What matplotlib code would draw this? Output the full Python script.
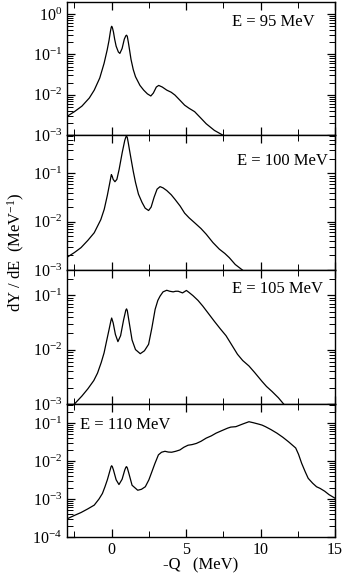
import matplotlib
matplotlib.use("Agg")
import matplotlib.pyplot as plt
from matplotlib.ticker import MultipleLocator, LogLocator, NullFormatter

plt.rcParams['font.family'] = ['Liberation Serif', 'DejaVu Serif']
plt.rcParams['mathtext.fontset'] = 'custom'
plt.rcParams['mathtext.rm'] = 'Liberation Serif'
plt.rcParams['mathtext.it'] = 'Liberation Serif:italic'
plt.rcParams['mathtext.bf'] = 'Liberation Serif:bold'
plt.rcParams['axes.unicode_minus'] = False

# ---- data ----
x95 = [-3.0, -2.5, -2.0, -1.5, -1.17, -0.8, -0.51, -0.3, -0.18, -0.08, -0.03, 0.0, 0.05, 0.12, 0.2, 0.3, 0.45, 0.55,
       0.7, 0.85, 0.95, 1.0, 1.05, 1.12, 1.2, 1.3, 1.45, 1.6, 1.9, 2.15, 2.4, 2.63, 2.8, 3.0, 3.16, 3.4, 3.7, 4.0, 4.25,
       4.6, 4.9, 5.2, 5.57, 6.0, 6.35, 6.9, 7.45]
y95 = [0.0029, 0.0038, 0.0052, 0.0083, 0.013, 0.026, 0.06, 0.13, 0.22, 0.38, 0.47, 0.5, 0.46, 0.36, 0.24, 0.16, 0.115, 0.106,
       0.14, 0.24, 0.29, 0.30, 0.28, 0.2, 0.13, 0.075, 0.042, 0.028, 0.017, 0.013, 0.0105, 0.0093, 0.011, 0.0155, 0.017, 0.0155,
       0.013, 0.0115, 0.0098, 0.0072, 0.0055, 0.0046, 0.0038, 0.0026, 0.0019, 0.0013, 0.0010]

x100 = [-2.92, -2.5, -2.06, -1.6, -1.17, -0.73, -0.5, -0.29, -0.12, -0.05, -0.02, 0.03, 0.1, 0.22, 0.35, 0.5, 0.71,
        0.88, 0.96, 1.0, 1.05, 1.12, 1.2, 1.3, 1.45, 1.6, 1.8, 2.04, 2.25, 2.48, 2.65, 2.85, 3.05, 3.25, 3.45, 3.7, 4.0,
        4.25, 4.6, 4.9, 5.2, 5.57, 6.0, 6.35, 6.8, 7.23, 7.6, 7.9, 8.3, 8.78]
y100 = [0.0019, 0.0023, 0.0029, 0.0041, 0.0059, 0.011, 0.018, 0.035, 0.065, 0.085, 0.094, 0.088, 0.075, 0.067, 0.075, 0.12, 0.27,
        0.48, 0.57, 0.59, 0.55, 0.42, 0.3, 0.2, 0.11, 0.065, 0.037, 0.025, 0.019, 0.017, 0.020, 0.032, 0.047, 0.053, 0.050, 0.044,
        0.036, 0.029, 0.021, 0.015, 0.012, 0.0095, 0.0072, 0.0055, 0.0037, 0.0027, 0.0022, 0.0018, 0.0013, 0.0010]

x105 = [-2.5, -2.0, -1.6, -1.2, -0.95, -0.7, -0.51, -0.35, -0.18, -0.05, 0.0, 0.1, 0.25, 0.42, 0.6,
        0.8, 0.95, 1.0, 1.05, 1.15, 1.37, 1.6, 1.92, 2.2, 2.48, 2.7, 2.92, 3.1, 3.25, 3.45, 3.7, 3.9, 4.13, 4.3,
        4.47, 4.76, 5.02, 5.2, 5.46, 5.8, 6.12, 6.5, 6.9, 7.3, 7.68, 8.0, 8.45, 8.8, 9.22, 9.6, 10.1,
        10.4, 10.77, 11.2, 11.55]
y105 = [0.0010, 0.0014, 0.0019, 0.0027, 0.0037, 0.0058, 0.0087, 0.014, 0.023, 0.034, 0.038, 0.031, 0.019, 0.014, 0.018,
        0.035, 0.053, 0.056, 0.052, 0.035, 0.015, 0.0100, 0.0084, 0.0095, 0.0125, 0.025, 0.055, 0.08, 0.096, 0.115, 0.123, 0.118,
        0.115, 0.118, 0.118, 0.11, 0.122, 0.112, 0.098, 0.080, 0.063, 0.046, 0.033, 0.024, 0.018, 0.013, 0.0082, 0.0063, 0.005,
        0.0038, 0.0026, 0.0021, 0.0017, 0.0013, 0.0010]

x110 = [-3.0, -2.5, -2.06, -1.6, -1.17, -0.85, -0.62, -0.45, -0.29, -0.12, -0.04, 0.0, 0.05, 0.12, 0.3, 0.49, 0.7,
        0.88, 0.96, 1.0, 1.05, 1.15, 1.37, 1.75, 2.0, 2.26, 2.5, 2.7, 2.9, 3.14, 3.35, 3.58, 3.8, 4.03, 4.3, 4.58,
        4.85, 5.13, 5.4, 5.69, 6.0, 6.35, 6.7, 7.01, 7.4, 7.78, 8.0, 8.34, 8.8, 9.22, 9.5, 9.89, 10.1,
        10.33, 10.7, 11.1, 11.5, 11.88, 12.36, 12.55, 12.76, 13.0, 13.2, 13.5, 13.76, 14.0, 14.31, 14.6, 15.0]
y110 = [0.0003, 0.00037, 0.00044, 0.00055, 0.00069, 0.001, 0.0014, 0.0021, 0.0032, 0.0055, 0.0071, 0.0075, 0.007, 0.0058, 0.0032,
        0.0024, 0.0033, 0.0058, 0.0069, 0.0071, 0.0066, 0.0048, 0.0023, 0.0017, 0.0018, 0.0021, 0.0032, 0.0052, 0.0085, 0.0145,
        0.017, 0.018, 0.0172, 0.017, 0.018, 0.0195, 0.023, 0.026, 0.027, 0.029, 0.033, 0.040, 0.046, 0.054, 0.063, 0.073, 0.078,
        0.080, 0.094, 0.108, 0.102, 0.093, 0.088, 0.080, 0.067, 0.054, 0.042, 0.032, 0.022, 0.015, 0.0087, 0.0052, 0.0035,
        0.0026, 0.0021, 0.0019, 0.0016, 0.0013, 0.00105]

labels = ["E = 95 MeV", "E = 100 MeV", "E = 105 MeV", "E = 110 MeV"]
series = [(x95, y95), (x100, y100), (x105, y105), (x110, y110)]
ylims = [(1e-3, 2.0), (1e-3, 0.62), (1e-3, 0.29), (1e-4, 0.316)]
label_pos = [(0.925, 0.85, 'right'), (0.975, 0.81, 'right'), (0.955, 0.86, 'right'), (0.05, 0.84, 'left')]

fig = plt.figure(figsize=(3.45, 5.76), dpi=100)
left, right = 67 / 345, 335 / 345
tops = [2, 135, 270, 404]
bots = [135, 270, 404, 537]
H = 576
axes = []
for i in range(4):
    ax = fig.add_axes([left, 1 - bots[i] / H, right - left, (bots[i] - tops[i]) / H])
    axes.append(ax)
    x, y = series[i]
    ax.plot(x, y, color='black', lw=0.9)
    ax.set_yscale('log')
    ax.set_xlim(-3, 15)
    ax.set_ylim(*ylims[i])
    ax.xaxis.set_major_locator(MultipleLocator(5))
    ax.xaxis.set_minor_locator(MultipleLocator(2.5))
    ax.yaxis.set_major_locator(LogLocator(base=10, numticks=10))
    ax.yaxis.set_minor_locator(LogLocator(base=10, subs=range(2, 10), numticks=20))
    ax.yaxis.set_minor_formatter(NullFormatter())
    ax.tick_params(which='both', direction='in', top=True, right=True, labelsize=11.5)
    ax.tick_params(which='major', length=6, width=0.9)
    ax.tick_params(which='minor', length=4, width=0.7)
    for s in ax.spines.values():
        s.set_linewidth(1.0)
    if i < 3:
        ax.tick_params(labelbottom=False)
    tx, ty, ha = label_pos[i]
    ax.text(tx, ty, labels[i], transform=ax.transAxes, ha=ha, va='center', fontsize=12)

axes[-1].set_xlabel('-Q   (MeV)', fontsize=12, labelpad=0)
fig.text(16 / 345, 1 - 252 / H, 'dY / dE  (MeV$^{-1}$)', rotation=90, ha='center', va='center', fontsize=12)

fig.savefig('out.png', dpi=100)
